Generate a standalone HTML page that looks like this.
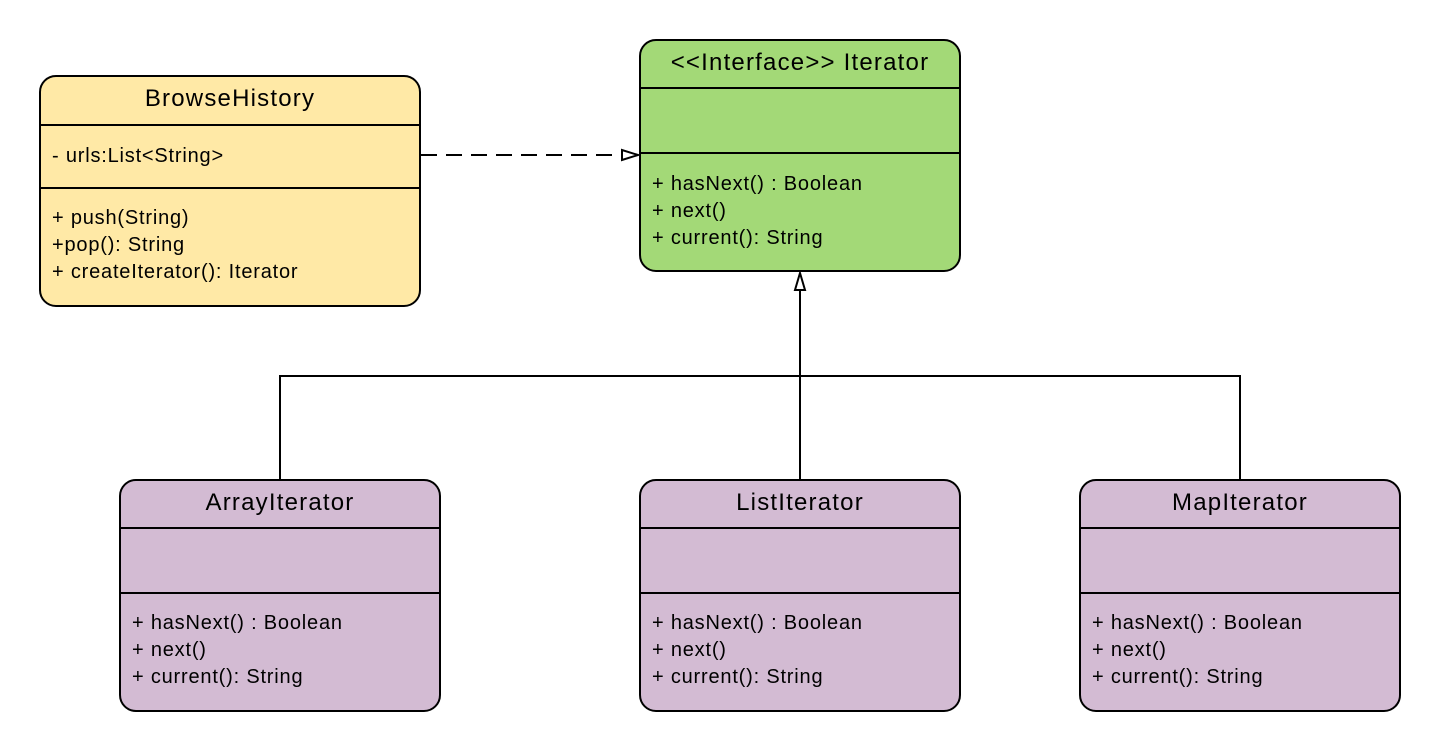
<!DOCTYPE html>
<html><head><meta charset="utf-8"><style>
html,body{margin:0;padding:0;background:#fff;}
svg{display:block;}
text{font-family:"Liberation Sans",sans-serif;fill:#000;}
.t{font-size:24px;text-anchor:middle;letter-spacing:1.2px;}
.b{font-size:20px;letter-spacing:0.8px;}
</style></head><body>
<svg width="1440" height="751" viewBox="0 0 1440 751" xmlns="http://www.w3.org/2000/svg">
<g stroke="#000" stroke-width="2" fill="none">
<line x1="421" y1="155" x2="624" y2="155" stroke-dasharray="16,9"/>
<polygon points="638,155 622,150 622,160" fill="#fff"/>
<line x1="800" y1="290" x2="800" y2="480"/>
<polygon points="800,273 795,290 805,290" fill="#fff"/>
<polyline points="280,480 280,376 1240,376 1240,480"/>
</g>
<g stroke="#000" stroke-width="2">
<rect x="40" y="76" width="380" height="230" rx="16" fill="#FFE9A6"/>
<line x1="40" y1="125" x2="420" y2="125"/><line x1="40" y1="188" x2="420" y2="188"/>
<rect x="640" y="40" width="320" height="231" rx="16" fill="#A3D977"/>
<line x1="640" y1="88" x2="960" y2="88"/><line x1="640" y1="153" x2="960" y2="153"/>
<rect x="120" y="480" width="320" height="231" rx="16" fill="#D3BBD3"/>
<line x1="120" y1="528" x2="440" y2="528"/><line x1="120" y1="593" x2="440" y2="593"/>
<rect x="640" y="480" width="320" height="231" rx="16" fill="#D3BBD3"/>
<line x1="640" y1="528" x2="960" y2="528"/><line x1="640" y1="593" x2="960" y2="593"/>
<rect x="1080" y="480" width="320" height="231" rx="16" fill="#D3BBD3"/>
<line x1="1080" y1="528" x2="1400" y2="528"/><line x1="1080" y1="593" x2="1400" y2="593"/>
</g>
<text class="t" x="230" y="106">BrowseHistory</text>
<text class="b" x="52" y="162">- urls:List&lt;String&gt;</text>
<text class="b" x="52" y="224">+ push(String)</text>
<text class="b" x="52" y="251">+pop(): String</text>
<text class="b" x="52" y="278">+ createIterator(): Iterator</text>
<text class="t" x="800" y="70">&lt;&lt;Interface&gt;&gt; Iterator</text>
<text class="b" x="652" y="190">+ hasNext() : Boolean</text>
<text class="b" x="652" y="217">+ next()</text>
<text class="b" x="652" y="244">+ current(): String</text>
<text class="t" x="280" y="510">ArrayIterator</text>
<text class="b" x="132" y="629">+ hasNext() : Boolean</text>
<text class="b" x="132" y="656">+ next()</text>
<text class="b" x="132" y="683">+ current(): String</text>
<text class="t" x="800" y="510">ListIterator</text>
<text class="b" x="652" y="629">+ hasNext() : Boolean</text>
<text class="b" x="652" y="656">+ next()</text>
<text class="b" x="652" y="683">+ current(): String</text>
<text class="t" x="1240" y="510">MapIterator</text>
<text class="b" x="1092" y="629">+ hasNext() : Boolean</text>
<text class="b" x="1092" y="656">+ next()</text>
<text class="b" x="1092" y="683">+ current(): String</text>
</svg>
</body></html>
